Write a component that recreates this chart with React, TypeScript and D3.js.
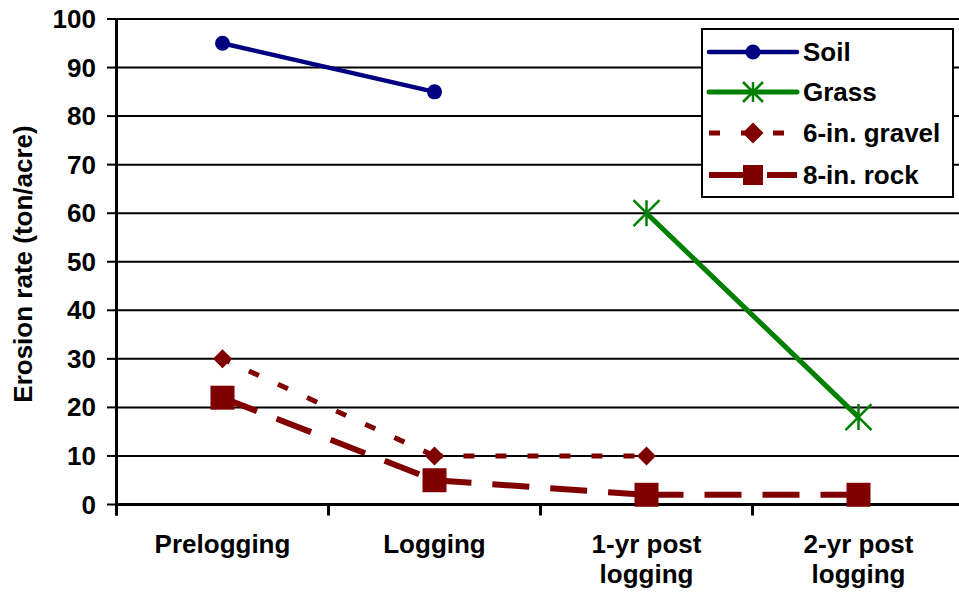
import React from "react";
import * as d3 from "d3";

const categories = ["Prelogging", "Logging", "1-yr post\nlogging", "2-yr post\nlogging"];
const soil: (number | null)[] = [95, 85, null, null];
const grass: (number | null)[] = [null, null, 60, 18];
const gravel: (number | null)[] = [30, 10, 10, null];
const rock: (number | null)[] = [22, 5, 2, 2];
const yTicks = [0, 10, 20, 30, 40, 50, 60, 70, 80, 90, 100];

const W = 959;
const H = 597;
const FONT = "'Liberation Sans', Arial, Helvetica, sans-serif";
const FS = 26;

type Series = {
  name: string;
  values: (number | null)[];
  color: string;
  width: number;
  dash: string | null;
  dashOffset: number;
  marker: "circle" | "star" | "diamond" | "square";
  size: number;
  legendSize: number;
};

const series: Series[] = [
  { name: "Soil", values: soil, color: "#000080", width: 4.5, dash: null, dashOffset: 0, marker: "circle", size: 7.5, legendSize: 7.5 },
  { name: "Grass", values: grass, color: "#008000", width: 5, dash: null, dashOffset: 0, marker: "star", size: 13, legendSize: 10 },
  { name: "6-in. gravel", values: gravel, color: "#800000", width: 5, dash: "11,21", dashOffset: 3, marker: "diamond", size: 9.5, legendSize: 10.5 },
  { name: "8-in. rock", values: rock, color: "#800000", width: 6, dash: "37,21", dashOffset: 0, marker: "square", size: 12, legendSize: 10 },
];

function Marker({ s, cx, cy, r }: { s: Series; cx: number; cy: number; r: number }) {
  if (s.marker === "circle") return <circle cx={cx} cy={cy} r={r} fill={s.color} />;
  if (s.marker === "square")
    return <rect x={cx - r} y={cy - r} width={2 * r} height={2 * r} fill={s.color} />;
  if (s.marker === "diamond")
    return (
      <path
        d={`M${cx},${cy - r}L${cx + r},${cy}L${cx},${cy + r}L${cx - r},${cy}Z`}
        fill={s.color}
      />
    );
  return (
    <path
      d={`M${cx},${cy - r}L${cx},${cy + r}M${cx - r},${cy - r}L${cx + r},${cy + r}M${cx + r},${cy - r}L${cx - r},${cy + r}`}
      stroke={s.color}
      strokeWidth={2.5}
      fill="none"
    />
  );
}

export default function App() {
  const left = 116.5;
  const x = d3.scaleBand<string>().domain(categories).range([left, left + 848]).paddingInner(0).paddingOuter(0);
  const y = d3.scaleLinear().domain([0, 100]).range([504.5, 19]);
  const cx = (c: string) => (x(c) as number) + x.bandwidth() / 2;
  const bottom = y(0);

  const legendX = 702;
  const legendY = 29;
  const legendW = 251;
  const legendH = 168;
  const rowY = [52, 92, 133, 175];

  return (
    <svg
      width={W}
      height={H}
      style={{ position: "absolute", left: 0, top: 0, background: "#fff" }}
      fontFamily={FONT}
      fontWeight="bold"
    >
      <rect x={0} y={0} width={W} height={H} fill="#fff" />
      {yTicks.filter((t) => t > 0).map((t) => (
        <line key={t} x1={left} x2={W} y1={y(t)} y2={y(t)} stroke="#000" strokeWidth={2} />
      ))}
      {yTicks.map((t) => (
        <g key={"yt" + t}>
          <line x1={107} x2={left} y1={y(t)} y2={y(t)} stroke="#000" strokeWidth={2} />
          <text x={96} y={y(t)} textAnchor="end" dominantBaseline="central" fontSize={FS}>
            {t}
          </text>
        </g>
      ))}
      <line x1={left} x2={left} y1={y(100)} y2={bottom + 11} stroke="#000" strokeWidth={3} />
      <line x1={left} x2={W} y1={bottom} y2={bottom} stroke="#000" strokeWidth={3} />
      {categories.map((c) => (
        <line
          key={"xt" + c}
          x1={x(c) as number}
          x2={x(c) as number}
          y1={bottom}
          y2={bottom + 11}
          stroke="#000"
          strokeWidth={3}
        />
      ))}
      {categories.map((c) => (
        <text key={"xl" + c} x={cx(c)} y={553} textAnchor="middle" fontSize={FS}>
          {c.split("\n").map((ln, i) => (
            <tspan key={i} x={cx(c)} dy={i === 0 ? 0 : 30}>
              {ln}
            </tspan>
          ))}
        </text>
      ))}
      <text transform={`translate(32,264) rotate(-90)`} textAnchor="middle" fontSize={FS}>
        Erosion rate (ton/acre)
      </text>
      {series.map((s) => {
        const segs: JSX.Element[] = [];
        for (let i = 0; i < categories.length - 1; i++) {
          const a = s.values[i];
          const b = s.values[i + 1];
          if (a == null || b == null) continue;
          segs.push(
            <line
              key={s.name + i}
              x1={cx(categories[i])}
              y1={y(a)}
              x2={cx(categories[i + 1])}
              y2={y(b)}
              stroke={s.color}
              strokeWidth={s.width}
              strokeDasharray={s.dash ?? undefined}
              strokeDashoffset={s.dashOffset}
            />
          );
        }
        return <g key={s.name}>{segs}</g>;
      })}
      {series.map((s) => (
        <g key={s.name + "m"}>
          {s.values.map((v, i) =>
            v == null ? null : (
              <Marker key={i} s={s} cx={cx(categories[i])} cy={y(v)} r={s.size} />
            )
          )}
        </g>
      ))}
      <rect x={legendX} y={legendY} width={legendW} height={legendH} fill="#fff" stroke="#000" strokeWidth={2} />
      {series.map((s, i) => (
        <g key={s.name + "lg"}>
          <line
            x1={709}
            x2={797}
            y1={rowY[i]}
            y2={rowY[i]}
            stroke={s.color}
            strokeWidth={s.width}
            strokeDasharray={s.dash ?? undefined}
            strokeLinecap={s.dash ? "butt" : "round"}
          />
          <Marker s={s} cx={753} cy={rowY[i]} r={s.legendSize} />
          <text x={803} y={rowY[i]} dominantBaseline="central" fontSize={FS}>
            {s.name}
          </text>
        </g>
      ))}
    </svg>
  );
}
